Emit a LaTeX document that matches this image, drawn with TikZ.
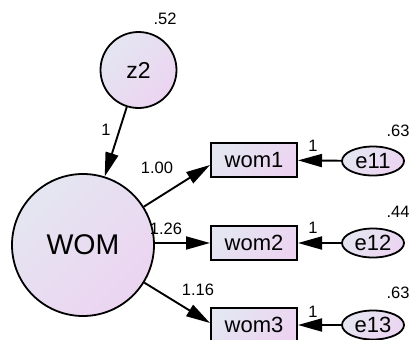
\documentclass[tikz,border=0pt]{standalone}
\usepackage{fontspec}
\setmainfont{Liberation Sans}
\usetikzlibrary{shapes.geometric,arrows.meta}
\definecolor{gA}{RGB}{228,230,241}
\definecolor{gB}{RGB}{236,212,241}
\tikzset{
  shade/.style={top color=gA, bottom color=gB, shading angle=45},
  latent/.style={circle, draw=black, line width=1.8pt, shade, inner sep=0pt},
  obs/.style={rectangle, draw=black, line width=2pt, shade, minimum width=86pt, minimum height=34pt, inner sep=0pt, font=\fontsize{22}{24}\selectfont},
  err/.style={ellipse, draw=black, line width=1.8pt, shade, minimum width=62pt, minimum height=29pt, inner sep=0pt, font=\fontsize{22}{24}\selectfont},
  path/.style={line width=1.9pt, -{Triangle[length=24pt,width=13pt]}},
  lab/.style={font=\fontsize{16.5}{18}\selectfont, inner sep=0pt}
}
\begin{document}
\begin{tikzpicture}[x=1pt,y=-1pt]
\useasboundingbox (0,0) rectangle (413,340);
\node[latent, minimum size=76pt, font=\fontsize{23}{25}\selectfont] (z2) at (138.5,70) {z2};
\node[latent, minimum size=142pt, font=\fontsize{28.5}{30}\selectfont] (WOM) at (83,245) {WOM};
\node[obs] (wom1) at (254,160) {wom1};
\node[obs] (wom2) at (254,243) {wom2};
\node[obs] (wom3) at (254,325) {wom3};
\node[err] (e11) at (373,161) {e11};
\node[err] (e12) at (373,243) {e12};
\node[err] (e13) at (373,325) {e13};
\draw[path] (z2) -- (WOM);
\draw[path] (WOM) -- ([yshift=-5pt]wom1.west);
\draw[path] (WOM.east |- wom2.west) -- (wom2.west);
\draw[path] (WOM) -- ([yshift=2pt]wom3.west);
\draw[path] (e11) -- (wom1);
\draw[path] (e12) -- (wom2);
\draw[path] (e13) -- (wom3);
\node[lab] (l52) at (165,19) {.52};
\node[lab] (lz) at (106,130) {1};
\node[lab] (l100) at (157,168) {1.00};
\node[lab] (l126) at (166,229) {1.26};
\node[lab] (l116) at (198,290) {1.16};
\node[lab] (la) at (313,146) {1};
\node[lab] (lb) at (313,228) {1};
\node[lab] (lc) at (313,312) {1};
\node[lab] (v1) at (398,131) {.63};
\node[lab] (v2) at (398,212) {.44};
\node[lab] (v3) at (398,293) {.63};
\end{tikzpicture}
\end{document}
